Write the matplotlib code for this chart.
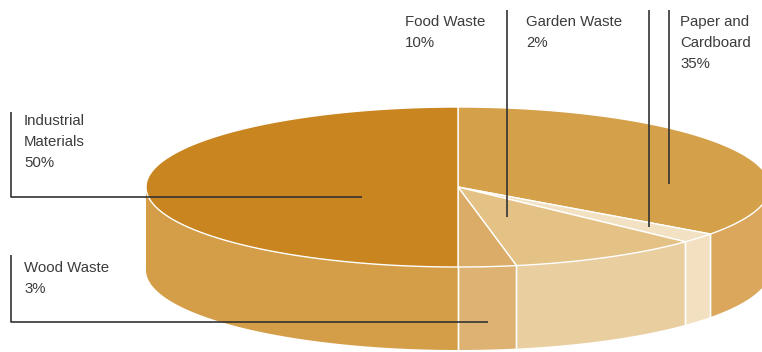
import numpy as np
import matplotlib
matplotlib.use("Agg")
import matplotlib.pyplot as plt
from matplotlib.patches import Polygon

# data, clockwise from 12 o'clock
categories = ['Paper and\nCardboard', 'Garden Waste', 'Food Waste', 'Wood Waste', 'Industrial\nMaterials']
shares = [35, 2, 10, 3, 50]

# styling
top_colors = ['#D4A04A', '#F2E1C3', '#E4C285', '#DAAC68', '#C88520']
side_colors = ['#DAA75C', '#F2E0C1', '#E9CE9F', '#DDB273', '#D49E48']

# label layout in pixels: text x, first baseline y, leader path
label_layout = [
    dict(tx=680, ty=26, line=[(669, 10), (669, 184)]),
    dict(tx=526, ty=26, line=[(649, 10), (649, 227)]),
    dict(tx=405, ty=26, line=[(507, 10), (507, 217)]),
    dict(tx=24, ty=272, line=[(11, 255), (11, 322), (488, 322)]),
    dict(tx=24, ty=125, line=[(11, 112), (11, 197), (362, 197)]),
]

W, H = 762, 352
cx, cy, rx, ry, depth = 458, 187, 312, 80, 83
text_color = '#3c3c3c'


def pt(theta, dy=0.0):
    return cx + rx * np.cos(theta), cy - ry * np.sin(theta) + dy


fig = plt.figure(figsize=(W / 100, H / 100), dpi=100)
ax = fig.add_axes([0, 0, 1, 1])
ax.set_xlim(0, W)
ax.set_ylim(H, 0)
ax.axis('off')

fracs = np.array(shares) / sum(shares)
ends = np.pi / 2 - 2 * np.pi * np.cumsum(fracs)
starts = np.concatenate([[np.pi / 2], ends[:-1]])

# front side walls (visible part is theta in [-pi, 0])
for a0, a1, col in zip(starts, ends, side_colors):
    hi, lo = a0, a1
    # shift range into [-2pi, pi/2] then clip to front half
    for shift in (0, 2 * np.pi):
        h = min(hi + shift, 0)
        l = max(lo + shift, -np.pi)
        if h <= l:
            continue
        t = np.linspace(h, l, 80)
        xs, ys = pt(t)
        xb, yb = pt(t[::-1], depth)
        poly = np.column_stack([np.concatenate([xs, xb]), np.concatenate([ys, yb])])
        ax.add_patch(Polygon(poly, closed=True, facecolor=col, edgecolor='none', zorder=1))
        # vertical seams
        for edge in (h, l):
            if -np.pi < edge < 0:
                x0, y0 = pt(edge)
                ax.plot([x0, x0], [y0, y0 + depth], color='white', lw=1.0, zorder=2)

# top face
for a0, a1, col in zip(starts, ends, top_colors):
    t = np.linspace(a0, a1, 200)
    xs, ys = pt(t)
    poly = np.column_stack([np.concatenate([[cx], xs]), np.concatenate([[cy], ys])])
    ax.add_patch(Polygon(poly, closed=True, facecolor=col, edgecolor='white', lw=1.0,
                         joinstyle='miter', zorder=3))

# labels and leader lines
for name, share, lay in zip(categories, shares, label_layout):
    lines = name.split('\n') + [f'{share}%']
    for i, s in enumerate(lines):
        ax.text(lay['tx'], lay['ty'] + i * 21, s, fontsize=10.8, color=text_color,
                family='Liberation Sans', va='baseline', ha='left', zorder=5)
    lx, ly = zip(*lay['line'])
    ax.plot(lx, ly, color='#333333', lw=1.2, solid_capstyle='butt', zorder=4)

fig.savefig('out.png', dpi=100, facecolor='white')
